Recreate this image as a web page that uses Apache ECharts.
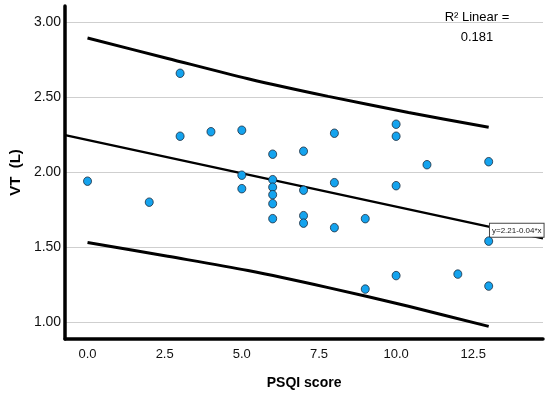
<!DOCTYPE html>
<html>
<head>
<meta charset="utf-8">
<script src="https://cdn.jsdelivr.net/npm/echarts@6/dist/echarts.min.js"></script>
<style>
html,body{margin:0;padding:0;background:#fff;}
#main{width:550px;height:396px;}
</style>
</head>
<body>
<div id="main"></div>
<script>
// Observed points
var psqi = [0,2,3,3,4,5,5,5,6,6,6,6,6,6,7,7,7,7,8,8,8,9,9,10,10,10,10,11,12,13,13,13];
var vt   = [1.94,1.80,2.66,2.24,2.27,2.28,1.98,1.89,2.12,1.95,1.90,1.85,1.79,1.69,2.14,1.88,1.71,1.66,2.26,1.93,1.63,1.69,1.22,2.32,2.24,1.91,1.31,2.05,1.32,2.07,1.54,1.24];
// Fit line endpoints
var fitX = [-0.725, 14.76];
var fitY = [2.247, 1.558];
// Prediction interval curves
var bandX = [0,2.6,5.2,7.8,10.4,13];
var upperY = [2.895,2.759,2.624,2.506,2.399,2.30];
var lowerY = [1.531,1.439,1.344,1.23,1.105,0.971];
// Tick labels
var xTicks = [0,2.5,5,7.5,10,12.5];
var yTicks = [1,1.5,2,2.5,3];
var fitLabel = 'y=2.21-0.04*x';
var r2Text = 'R\u00B2 Linear =\n0.181';

function zip(a,b){return a.map(function(v,i){return [v,b[i]];});}

var FONT = '"Liberation Sans", Arial, sans-serif';
var chart = echarts.init(document.getElementById('main'), null, {renderer:'canvas'});
chart.setOption({
  animation:false,
  backgroundColor:'#fff',
  textStyle:{fontFamily:FONT},
  grid:{left:57,right:7,top:6,bottom:57},
  xAxis:{
    type:'value', min:-0.725, max:14.76,
    axisLine:{show:true,onZero:false,lineStyle:{color:'#000',width:3.5}},
    axisTick:{show:false},
    splitLine:{show:false},
    axisLabel:{customValues:xTicks,formatter:function(v){return v.toFixed(1);},color:'#111',fontSize:13,margin:9,fontFamily:FONT},
    name:'PSQI score', nameLocation:'middle', nameGap:37,
    nameTextStyle:{fontWeight:'bold',fontSize:14,color:'#000',fontFamily:FONT}
  },
  yAxis:{
    type:'value', min:0.887, max:3.109,
    axisLine:{show:true,onZero:false,lineStyle:{color:'#000',width:3.5}},
    axisTick:{show:false},
    splitLine:{show:true,showMinLine:false,showMaxLine:false,lineStyle:{color:'#cfcfcf',width:1}},
    axisLabel:{customValues:yTicks,formatter:function(v){return v.toFixed(2);},color:'#111',fontSize:14,margin:4,fontFamily:FONT},
    name:'VT  (L)', nameLocation:'middle', nameGap:39,
    nameTextStyle:{fontWeight:'bold',fontSize:15,color:'#000',fontFamily:FONT}
  },
  graphic:[{
    type:'text', x:477, y:7, z:10,
    style:{text:r2Text, textAlign:'center', fontSize:13, lineHeight:20, fill:'#000', fontFamily:FONT}
  }],
  series:[
    {type:'line', data:zip(bandX,upperY), smooth:0.3, showSymbol:false, symbol:'none',
     lineStyle:{color:'#000',width:3}, z:3, silent:true},
    {type:'line', data:zip(bandX,lowerY), smooth:0.3, showSymbol:false, symbol:'none',
     lineStyle:{color:'#000',width:3}, z:3, silent:true},
    {type:'line', data:zip(fitX,fitY), showSymbol:false, symbol:'none',
     lineStyle:{color:'#000',width:2.2}, z:3, silent:true,
     markPoint:{symbol:'rect', symbolSize:0, silent:true,
       data:[{coord:[13.91,1.612]}],
       label:{show:true, position:'inside', formatter:fitLabel, backgroundColor:'#fff',
         borderColor:'#444', borderWidth:1, padding:[3,2,2,2], fontSize:8, color:'#222', fontFamily:FONT}
     }},
    {type:'scatter', data:zip(psqi,vt), symbol:'circle', symbolSize:[8,8.5], z:5,
     itemStyle:{color:'#14a3ee', borderColor:'#1d2b3b', borderWidth:0.8, opacity:1}}
  ]
});
</script>
</body>
</html>
